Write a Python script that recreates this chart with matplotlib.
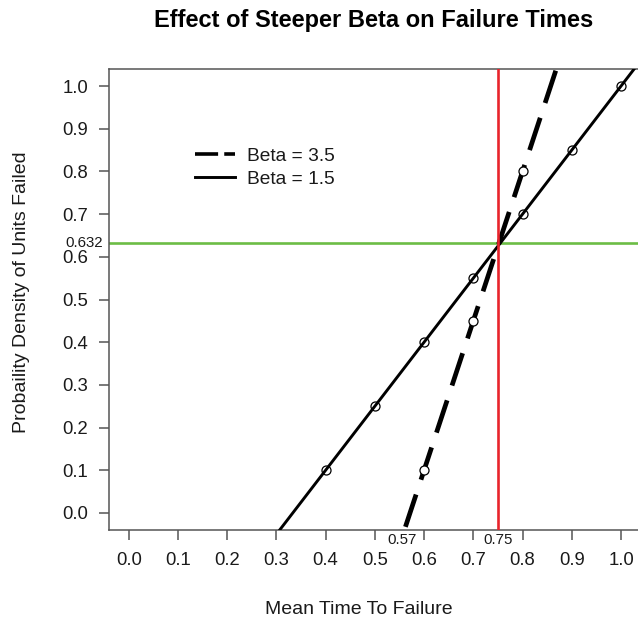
import numpy as np
import matplotlib
matplotlib.use("Agg")
import matplotlib.pyplot as plt

plt.rcParams['font.family'] = ['Liberation Sans', 'DejaVu Sans']

# Weibull-style unreliability lines for two shape parameters
x_ticks = [0.0, 0.1, 0.2, 0.3, 0.4, 0.5, 0.6, 0.7, 0.8, 0.9, 1.0]
y_ticks = [0.0, 0.1, 0.2, 0.3, 0.4, 0.5, 0.6, 0.7, 0.8, 0.9, 1.0]

beta_steep_x = [0.6, 0.7, 0.8]
beta_steep_y = [0.10, 0.45, 0.80]
beta_steep_slope = 3.5
beta_steep_intercept = -2.0

beta_flat_x = [0.4, 0.5, 0.6, 0.7, 0.8, 0.9, 1.0]
beta_flat_y = [0.10, 0.25, 0.40, 0.55, 0.70, 0.85, 1.00]
beta_flat_slope = 1.5
beta_flat_intercept = -0.5

char_life = 0.75
unrel_at_char_life = 0.632
steep_zero = 0.57

fig = plt.figure(figsize=(6.38, 6.2), dpi=100)
ax = fig.add_axes([109 / 638, 90 / 620, 531.7 / 638, 461 / 620])
ax.set_xlim(-0.04, 1.04)
ax.set_ylim(-0.04, 1.04)

axis_col = '#555555'
text_col = '#1a1a1a'
for s in ax.spines.values():
    s.set_color(axis_col)
    s.set_linewidth(1.1)

ax.set_xticks(x_ticks)
ax.set_yticks(y_ticks)
ax.set_xticklabels([f"{v:.1f}" for v in x_ticks])
ax.set_yticklabels([f"{v:.1f}" for v in y_ticks])
ax.tick_params(direction='out', length=7, width=1.1, color=axis_col,
               labelsize=13.3, labelcolor=text_col)
ax.tick_params(axis='x', pad=9)
ax.tick_params(axis='y', pad=8)

# reference lines at the characteristic life
ax.axhline(unrel_at_char_life, color='#6cbd45', lw=1.9, zorder=2)
ax.axvline(char_life, color='#e8242c', lw=1.9, zorder=4)

# fitted lines across the full plotting region
xx = np.array([-0.04, 1.04])
ax.plot(xx, beta_steep_slope * xx + beta_steep_intercept, color='black',
        lw=3.4, dashes=(7.2, 3.3), solid_capstyle='butt', zorder=3)
ax.plot(xx, beta_flat_slope * xx + beta_flat_intercept, color='black',
        lw=2.1, zorder=3)

ax.plot(beta_flat_x, beta_flat_y, 'o', ms=6.5, mfc='none', mec='black',
        mew=0.9, zorder=5)
ax.plot(beta_steep_x, beta_steep_y, 'o', ms=6.5, mfc='white', mec='black',
        mew=0.9, zorder=5)

# legend handles: one long dash then a short one, as in the key
h_steep, = ax.plot([], [], color='black', lw=2.6, dashes=(6.4, 1.7),
                   label='Beta = 3.5')
h_flat, = ax.plot([], [], color='black', lw=2.1, label='Beta = 1.5')

# value annotations
ax.text(0.555, -0.064, f"{steep_zero:.2f}", ha='center', va='center',
        fontsize=10.8, color=text_col, clip_on=False)
ax.text(char_life, -0.064, f"{char_life:.2f}", ha='center', va='center',
        fontsize=10.8, color=text_col, clip_on=False)
ax.text(-0.09, unrel_at_char_life, f"{unrel_at_char_life:.3f}", ha='center',
        va='center', fontsize=10.8, color=text_col, clip_on=False)

leg = ax.legend(handles=[h_steep, h_flat], loc='upper left',
                bbox_to_anchor=(0.162, 0.830), frameon=False,
                fontsize=13.8, handlelength=2.1, handletextpad=0.6,
                labelspacing=0.3, borderaxespad=0, borderpad=0)
for t in leg.get_texts():
    t.set_color(text_col)

fig.text(374 / 638, 1 - 20 / 620, 'Effect of Steeper Beta on Failure Times',
         ha='center', va='center', fontsize=17, fontweight='bold', color='black')
fig.text(359 / 638, 1 - 609 / 620, 'Mean Time To Failure', ha='center',
         va='center', fontsize=14, color=text_col)
fig.text(22 / 638, 1 - 292 / 620, 'Probaility Density of Units Failed',
         ha='center', va='center', rotation=90, fontsize=14, color=text_col)

fig.savefig('out.png', dpi=100)
